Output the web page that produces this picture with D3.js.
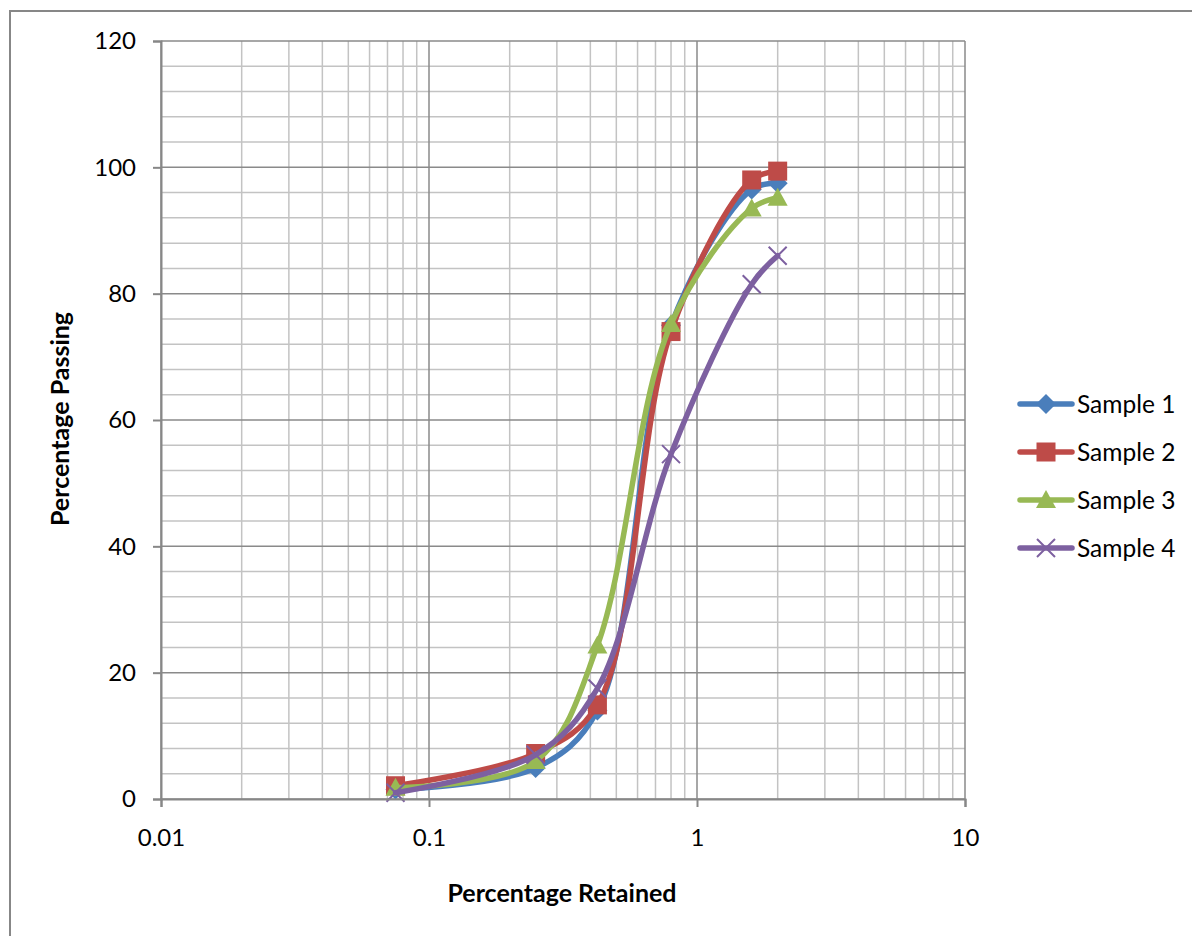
<!DOCTYPE html>
<html>
<head>
<meta charset="utf-8">
<script src="https://cdn.jsdelivr.net/npm/d3@7"></script>
<style>
  body { margin: 0; background: #fff; }
  text { font-family: Lato, "Open Sans", sans-serif; fill: #000; }
</style>
</head>
<body>
<svg id="mainsvg" width="1192" height="936"></svg>
<script>
const sieveSizes = [0.075, 0.25, 0.425, 0.8, 1.6, 2.0];
const sample1 = [1.5, 4.9, 14, 75, 96.5, 97.5];
const sample2 = [2.1, 7.2, 14.9, 74, 98, 99.4];
const sample3 = [1.8, 6, 24.3, 75.2, 93.5, 95.2];
const sample4 = [1, 7, 17.5, 54.6, 81.5, 86];
const seriesNames = ['Sample 1', 'Sample 2', 'Sample 3', 'Sample 4'];
const xTicks = [0.01, 0.1, 1, 10];
const yTicks = [0, 20, 40, 60, 80, 100, 120];

const colors = ['#4a7ebb', '#be4b48', '#98b954', '#7d60a0'];
const symbols = ['diamond', 'square', 'triangle', 'cross'];

const svg = d3.select('#mainsvg');
const margin = { top: 41, left: 161, right: 965, bottom: 799 };

// chart area border
svg.append('rect').attr('x', 10).attr('y', 11).attr('width', 1200).attr('height', 1000)
  .attr('fill', 'none').attr('stroke', '#878787').attr('stroke-width', 2);

const xScale = d3.scaleLog().domain([0.01, 10]).range([margin.left, margin.right]);
const yScale = d3.scaleLinear().domain([0, 120]).range([margin.bottom, margin.top]);

const g = svg.append('g');

// minor gridlines
const minorX = [];
[0.01, 0.1, 1].forEach(d => { for (let k = 2; k <= 9; k++) minorX.push(d * k); });
const minorY = d3.range(0, 121, 4).filter(v => v % 20 !== 0);

g.selectAll('.minx').data(minorX).join('line').attr('class', 'minx')
  .attr('x1', d => xScale(d)).attr('x2', d => xScale(d))
  .attr('y1', margin.top).attr('y2', margin.bottom)
  .attr('stroke', '#c3c3c3').attr('stroke-width', 1.5);
g.selectAll('.miny').data(minorY).join('line').attr('class', 'miny')
  .attr('y1', d => yScale(d)).attr('y2', d => yScale(d))
  .attr('x1', margin.left).attr('x2', margin.right)
  .attr('stroke', '#c3c3c3').attr('stroke-width', 1.5);

// major gridlines
g.selectAll('.majx').data(xTicks).join('line').attr('class', 'majx')
  .attr('x1', d => xScale(d)).attr('x2', d => xScale(d))
  .attr('y1', margin.top).attr('y2', margin.bottom)
  .attr('stroke', '#8a8a8a').attr('stroke-width', 1.5);
g.selectAll('.majy').data(yTicks).join('line').attr('class', 'majy')
  .attr('y1', d => yScale(d)).attr('y2', d => yScale(d))
  .attr('x1', margin.left).attr('x2', margin.right)
  .attr('stroke', '#8a8a8a').attr('stroke-width', 1.5);

// axes
const yAxis = d3.axisLeft(yScale).tickValues(yTicks).tickSize(8).tickPadding(17).tickFormat(d3.format('d'));
const yAxisGroup = svg.append('g').attr('transform', `translate(${margin.left},0)`).call(yAxis);
const xAxis = d3.axisBottom(xScale).tickValues(xTicks).tickSize(8).tickPadding(22).tickFormat(d => String(d));
const xAxisGroup = svg.append('g').attr('transform', `translate(0,${margin.bottom})`).call(xAxis);
[yAxisGroup, xAxisGroup].forEach(ax => {
  ax.select('.domain').attr('stroke', '#878787').attr('stroke-width', 2);
  ax.selectAll('.tick line').attr('stroke', '#878787').attr('stroke-width', 2);
  ax.selectAll('.tick text').attr('font-size', 24).attr('font-family', 'Lato, sans-serif').attr('fill', '#000');
});

// axis titles
svg.append('text').attr('x', 562).attr('y', 902).attr('text-anchor', 'middle')
  .attr('font-size', 25).attr('font-weight', 'bold').text('Percentage Retained');
svg.append('text').attr('transform', 'translate(69,419) rotate(-90)').attr('text-anchor', 'middle')
  .attr('font-size', 25).attr('font-weight', 'bold').text('Percentage Passing');

// series
const allSeries = [sample1, sample2, sample3, sample4].map((vals, i) => ({
  name: seriesNames[i],
  points: vals.map((v, j) => ({ x: sieveSizes[j], y: v }))
}));

const line = d3.line().x(d => xScale(d.x)).y(d => yScale(d.y)).curve(d3.curveCatmullRom.alpha(0.5));

function marker(sel, i) {
  const c = colors[i];
  const s = symbols[i];
  if (s === 'diamond') {
    sel.append('path').attr('d', 'M0,-10L10,0L0,10L-10,0Z').attr('fill', c);
  } else if (s === 'square') {
    sel.append('rect').attr('x', -9.5).attr('y', -9.5).attr('width', 19).attr('height', 19).attr('fill', c);
  } else if (s === 'triangle') {
    sel.append('path').attr('d', 'M0,-10L10,8L-10,8Z').attr('fill', c);
  } else {
    sel.append('path').attr('d', 'M-9,-9L9,9M-9,9L9,-9').attr('stroke', c).attr('stroke-width', 2).attr('fill', 'none');
  }
}

allSeries.forEach((s, i) => {
  const sg = g.append('g').attr('class', 'series');
  sg.append('path').datum(s.points).attr('d', line)
    .attr('fill', 'none').attr('stroke', colors[i]).attr('stroke-width', 5.5)
    .attr('stroke-linecap', 'round');
  sg.selectAll('.pt').data(s.points).join('g').attr('class', 'pt')
    .attr('transform', d => `translate(${xScale(d.x)},${yScale(d.y)})`)
    .each(function () { marker(d3.select(this), i); });
});

// legend
const legend = svg.append('g').attr('transform', 'translate(1018,404)');
seriesNames.forEach((name, i) => {
  const row = legend.append('g').attr('transform', `translate(0,${i * 48})`);
  row.append('line').attr('x1', 2).attr('x2', 54).attr('y1', 0).attr('y2', 0)
    .attr('stroke', colors[i]).attr('stroke-width', 5.5).attr('stroke-linecap', 'round');
  const m = row.append('g').attr('transform', 'translate(28,0)');
  marker(m, i);
  row.append('text').attr('x', 59).attr('y', 0).attr('dy', '0.35em')
    .attr('font-size', 24.5).text(name);
});
</script>
</body>
</html>
